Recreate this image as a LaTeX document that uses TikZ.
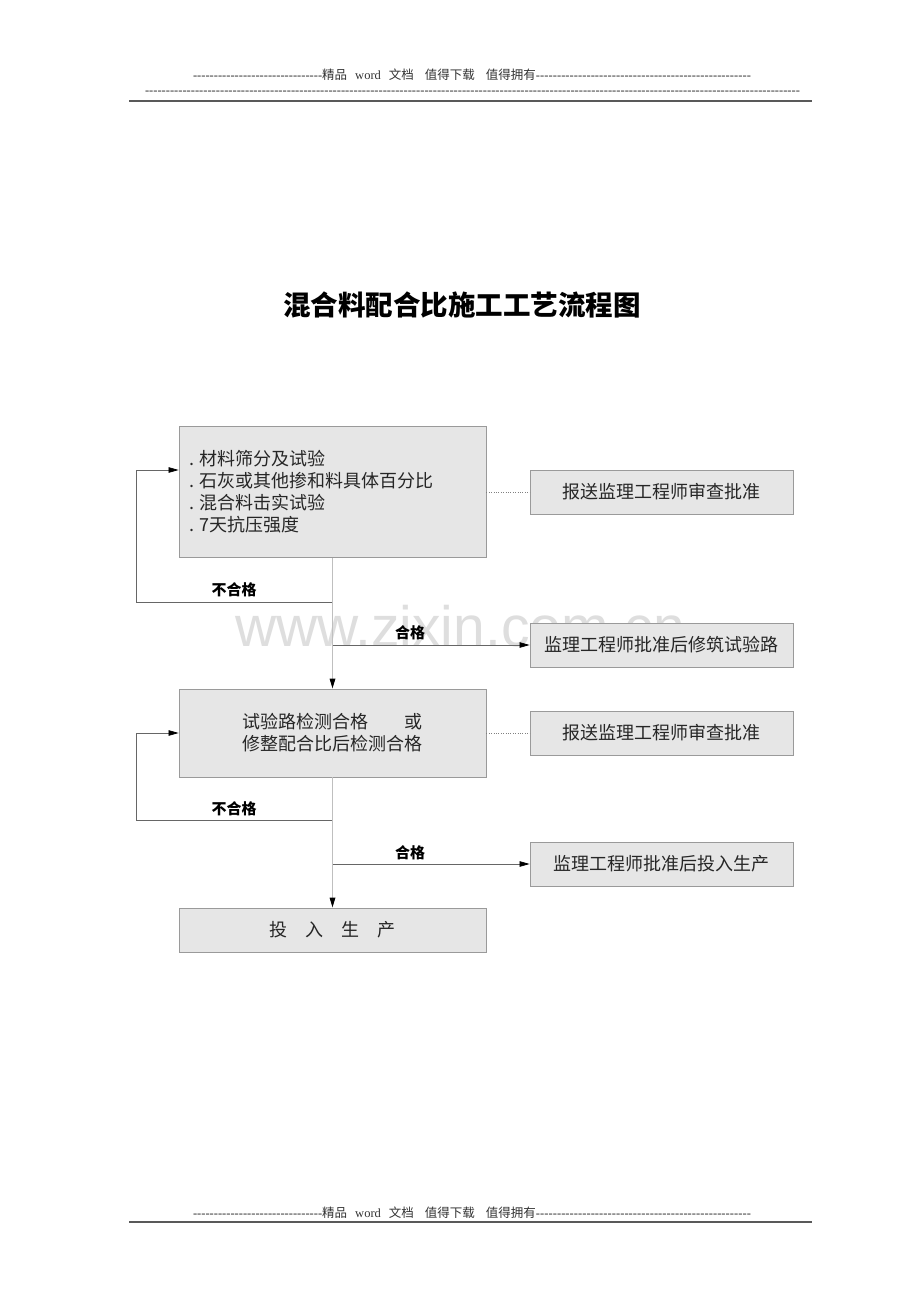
\documentclass[tikz,border=0pt]{standalone}
\usepackage{fontspec}
\setmainfont{Liberation Serif}
\newfontfamily\cjk{Noto Sans CJK SC}
\newfontfamily\wmfont{Liberation Sans}
\usetikzlibrary{arrows.meta}
\definecolor{boxfill}{HTML}{E6E6E6}
\definecolor{boxline}{HTML}{9A9A9A}
\definecolor{wmgray}{HTML}{DEDEDE}
\newcommand{\dashrun}[1]{\xleaders\hbox{-}\hskip 0pt plus #1fill}
\newcommand{\itemdot}{.\hspace{6pt}}

\begin{document}
\begin{tikzpicture}[x=1pt,y=-1pt,
  box/.style={draw=boxline,fill=boxfill,line width=0.8pt,inner sep=0pt,
    font=\cjk\fontsize{18}{22}\selectfont,text=black!85},
  mainbox/.style={box,minimum width=307pt},
  sidebox/.style={box,minimum width=263pt,minimum height=44pt},
  tip/.style={-{Triangle[length=10pt,width=5.5pt,color=black]}},
  flow/.style={draw=black!60,line width=0.7pt},
  trunk/.style={draw=black!25,line width=1.6pt},
  tag/.style={font=\cjk\bfseries\fontsize{15}{15}\selectfont},
  pagetext/.style={font=\fontsize{12.5}{14}\selectfont,text=black!80}]
\fill[white] (0,0) rectangle (920,1302);
\node[font=\wmfont\fontsize{57}{57}\selectfont,text=wmgray,anchor=base] (wm) at (460,646) {www.zixin.com.cn};

\node[pagetext] (head) at (472,75) {\hbox to 558pt{\dashrun{128}{\cjk 精品}\hspace{8pt}word\hspace{8pt}{\cjk 文档}\hspace{11pt}{\cjk 值得下载}\hspace{11pt}{\cjk 值得拥有}\dashrun{213}}};
\node[pagetext] (head2) at (472.5,93) {\hbox to 655pt{\dashrun{1}}};
\draw[line width=2pt,draw=black!65] (129,101) -- (812,101);
\node[pagetext] (foot) at (472,1213) {\hbox to 558pt{\dashrun{128}{\cjk 精品}\hspace{8pt}word\hspace{8pt}{\cjk 文档}\hspace{11pt}{\cjk 值得下载}\hspace{11pt}{\cjk 值得拥有}\dashrun{213}}};
\draw[line width=2pt,draw=black!65] (129,1222) -- (812,1222);

\node[font=\cjk\bfseries\fontsize{27.5}{30}\selectfont] (title) at (462,305) {混合料配合比施工工艺流程图};

\node[mainbox,minimum height=131pt,text width=287pt,align=left] (mat) at (332.5,492) {\itemdot 材料筛分及试验\\\itemdot 石灰或其他掺和料具体百分比\\\itemdot 混合料击实试验\\\itemdot 7天抗压强度};
\node[sidebox] (rep1) at (661.5,492) {报送监理工程师审查批准};
\node[sidebox] (road) at (661.5,645) {监理工程师批准后修筑试验路};
\node[mainbox,minimum height=88pt,align=center] (test) at (332.5,733) {试验路检测合格\hspace{2em}或\\修整配合比后检测合格};
\node[sidebox] (rep2) at (661.5,733) {报送监理工程师审查批准};
\node[sidebox] (use) at (661.5,864) {监理工程师批准后投入生产};
\node[mainbox,minimum height=44pt] (prod) at (332.5,930) {投\quad 入\quad 生\quad 产};

\coordinate (f1) at (332.5,602);
\coordinate (b1) at (136,470);
\coordinate (g1) at (332.5,645);
\coordinate (f2) at (332.5,820);
\coordinate (b2) at (136,733);
\coordinate (g2) at (332.5,864);

\draw[flow,tip] (f1) -| (b1) -- (b1 -| mat.west);
\draw[flow,tip] (g1) -- (road.west);
\draw[flow,tip] (f2) -| (b2) -- (test.west);
\draw[flow,tip] (g2) -- (use.west);
\draw[trunk,tip] (mat.south) -- (test.north);
\draw[trunk,tip] (test.south) -- (prod.north);
\draw[dotted,draw=black!50] (mat.east) -- (rep1.west);
\draw[dotted,draw=black!50] (test.east) -- (rep2.west);

\node[tag] (no1) at (234,590) {不合格};
\node[tag] (ok1) at (410,633) {合格};
\node[tag] (no2) at (234,809) {不合格};
\node[tag] (ok2) at (410,853) {合格};
\end{tikzpicture}
\end{document}
